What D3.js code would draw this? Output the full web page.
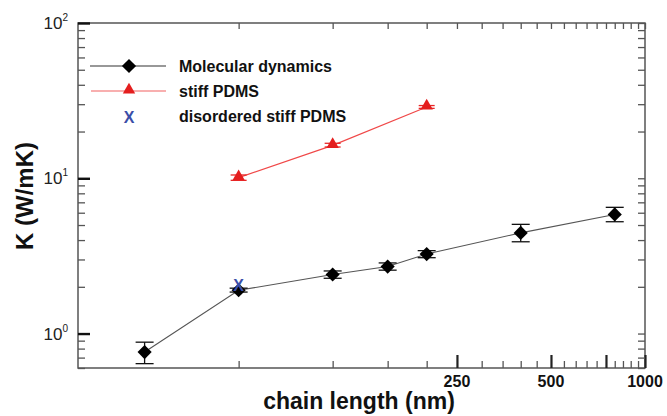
<!DOCTYPE html>
<html><head><meta charset="utf-8">
<script src="https://cdn.jsdelivr.net/npm/d3@7"></script>
<style>
body{margin:0;background:#fff;}
svg{display:block;font-family:"Liberation Sans",Arial,sans-serif;}
</style></head>
<body><svg id="c" width="667" height="416"></svg>
<script>
// ---- data ----
const mdX   = [25, 50, 100, 150, 200, 400, 800];
const mdY   = [0.76, 1.9, 2.4, 2.7, 3.25, 4.45, 5.85];
const mdLo  = [0.64, 1.85, 2.27, 2.56, 3.08, 3.9, 5.25];
const mdHi  = [0.88, 1.96, 2.53, 2.85, 3.42, 5.05, 6.5];
const stiffX  = [50, 100, 200];
const stiffY  = [10.1, 16.3, 28.8];
const stiffLo = [9.7, 15.9, 28.2];
const stiffHi = [10.5, 16.8, 29.4];
const disX = [50];
const disY = [2.05];
const xTickLabels = [250, 500, 1000];
const yTickLabels = [1, 10, 100];
const legendLabels = ["Molecular dynamics", "stiff PDMS", "disordered stiff PDMS"];

// ---- layout ----
const L = 78, R = 645, T = 23, B = 368;
const svg = d3.select("#c");
const x = d3.scaleLog().domain([15.3, 1000]).range([L, R]);
const y = d3.scaleLog().domain([0.6, 100]).range([B, T]);

const xMinor = d3.range(50, 1001, 50);
const xMajor = [250, 500, 750, 1000];
const yMinor = [];
[0.1, 1, 10].forEach(d => { for (let k = 1; k <= 9; k++) { const v = +(d * k).toPrecision(3); if (v >= 0.6 && v <= 100) yMinor.push(v); } });
yMinor.push(100);

const axisColor = "#555";
svg.append("rect").attr("x", L).attr("y", T).attr("width", R - L).attr("height", B - T)
  .attr("fill", "none").attr("stroke", axisColor).attr("stroke-width", 1.5);

// bottom ticks (inward)
const gb = svg.append("g").attr("transform", `translate(0,${B})`)
  .call(d3.axisBottom(x).tickValues(xMinor).tickSizeInner(-7).tickSizeOuter(0).tickFormat(""));
gb.select(".domain").remove();
gb.selectAll(".tick line").attr("stroke", axisColor).attr("stroke-width", 1.3)
  .filter(d => xMajor.includes(d)).attr("y2", -13).attr("stroke", "#222").attr("stroke-width", 2.2);
svg.append("g").selectAll("text").data(xTickLabels).join("text")
  .attr("x", d => x(d)).attr("y", 387).attr("text-anchor", "middle")
  .attr("font-size", 16).attr("font-weight", "bold").attr("fill", "#111").text(d => d);

// top ticks (inward)
const gt = svg.append("g").attr("transform", `translate(0,${T})`)
  .call(d3.axisTop(x).tickValues(xMinor).tickSizeInner(-6).tickSizeOuter(0).tickFormat(""));
gt.select(".domain").remove();
gt.selectAll(".tick line").attr("stroke", axisColor).attr("stroke-width", 1.3);

// left ticks
const gl = svg.append("g").attr("transform", `translate(${L},0)`)
  .call(d3.axisLeft(y).tickValues(yMinor).tickSizeInner(-7).tickSizeOuter(0).tickFormat(""));
gl.select(".domain").remove();
gl.selectAll(".tick line").attr("stroke", axisColor).attr("stroke-width", 1.3)
  .filter(d => yTickLabels.includes(d)).attr("x2", 12).attr("stroke", "#111").attr("stroke-width", 2.4);

// right ticks
const gr = svg.append("g").attr("transform", `translate(${R},0)`)
  .call(d3.axisRight(y).tickValues(yMinor).tickSizeInner(-7).tickSizeOuter(0).tickFormat(""));
gr.select(".domain").remove();
gr.selectAll(".tick line").attr("stroke", axisColor).attr("stroke-width", 1.3);

// left tick labels 10^n
const ylab = svg.append("g").selectAll("text").data(yTickLabels).join("text")
  .attr("x", 68).attr("y", d => y(d) + 6).attr("text-anchor", "end")
  .attr("font-size", 17).attr("fill", "#222");
ylab.append("tspan").text("10");
ylab.append("tspan").attr("font-size", 10).attr("dy", -8).text(d => Math.round(Math.log10(d)));

// axis titles
svg.append("text").attr("x", 359).attr("y", 409).attr("text-anchor", "middle")
  .attr("font-size", 23).attr("font-weight", "bold").attr("fill", "#111").text("chain length (nm)");
svg.append("text").attr("transform", "translate(33,196) rotate(-90)").attr("text-anchor", "middle")
  .attr("font-size", 24).attr("font-weight", "bold").attr("fill", "#111").text("K (W/mK)");

// ---- series ----
const diamond = d3.symbol().type(d3.symbolSquare).size(100);
const tri = d3.symbol().type(d3.symbolTriangle).size(66);
const md = mdX.map((v, i) => ({x: v, y: mdY[i], lo: mdLo[i], hi: mdHi[i]}));
const st = stiffX.map((v, i) => ({x: v, y: stiffY[i], lo: stiffLo[i], hi: stiffHi[i]}));

const line = d3.line().x(d => x(d.x)).y(d => y(d.y));
svg.append("path").datum(st).attr("d", line).attr("fill", "none").attr("stroke", "#f04848").attr("stroke-width", 1.2);
svg.append("path").datum(md).attr("d", line).attr("fill", "none").attr("stroke", "#555").attr("stroke-width", 1.1);

function errBars(data, color, cap) {
  const g = svg.append("g").attr("stroke", color).attr("stroke-width", 1.3);
  data.forEach(d => {
    g.append("line").attr("x1", x(d.x)).attr("x2", x(d.x)).attr("y1", y(d.lo)).attr("y2", y(d.hi));
    g.append("line").attr("x1", x(d.x) - cap).attr("x2", x(d.x) + cap).attr("y1", y(d.lo)).attr("y2", y(d.lo));
    g.append("line").attr("x1", x(d.x) - cap).attr("x2", x(d.x) + cap).attr("y1", y(d.hi)).attr("y2", y(d.hi));
  });
}
errBars(md, "#111", 9);
errBars(st, "#e82828", 8);

svg.append("g").selectAll("path").data(md).join("path")
  .attr("d", diamond).attr("transform", d => `translate(${x(d.x)},${y(d.y)}) rotate(45)`).attr("fill", "#000");
svg.append("g").selectAll("path").data(st).join("path")
  .attr("d", tri).attr("transform", d => `translate(${x(d.x)},${y(d.y) - 1})`).attr("fill", "#e41e1e");
svg.append("g").selectAll("text").data(disX).join("text")
  .attr("x", d => x(d)).attr("y", (d, i) => y(disY[i]) + 6).attr("text-anchor", "middle")
  .attr("font-size", 16).attr("font-weight", "bold").attr("fill", "#3b4ea8").text("X");

// ---- legend ----
const lg = svg.append("g");
const ly = [66, 91, 116];
lg.append("line").attr("x1", 90).attr("x2", 166).attr("y1", ly[0]).attr("y2", ly[0]).attr("stroke", "#333").attr("stroke-width", 1.1);
lg.append("path").attr("d", diamond).attr("transform", `translate(129,${ly[0]}) rotate(45)`).attr("fill", "#000");
lg.append("line").attr("x1", 91).attr("x2", 166).attr("y1", ly[1]).attr("y2", ly[1]).attr("stroke", "#f26060").attr("stroke-width", 1.2);
lg.append("path").attr("d", tri).attr("transform", `translate(129,${ly[1] - 1})`).attr("fill", "#e41e1e");
lg.append("text").attr("x", 129).attr("y", ly[2] + 7).attr("text-anchor", "middle")
  .attr("font-size", 16).attr("font-weight", "bold").attr("fill", "#3b4ea8").text("X");
lg.selectAll("text.lab").data(legendLabels).join("text").attr("class", "lab")
  .attr("x", 179).attr("y", (d, i) => ly[i] + 6).attr("font-size", 16).attr("font-weight", "bold").attr("fill", "#111").text(d => d);
</script></body></html>
